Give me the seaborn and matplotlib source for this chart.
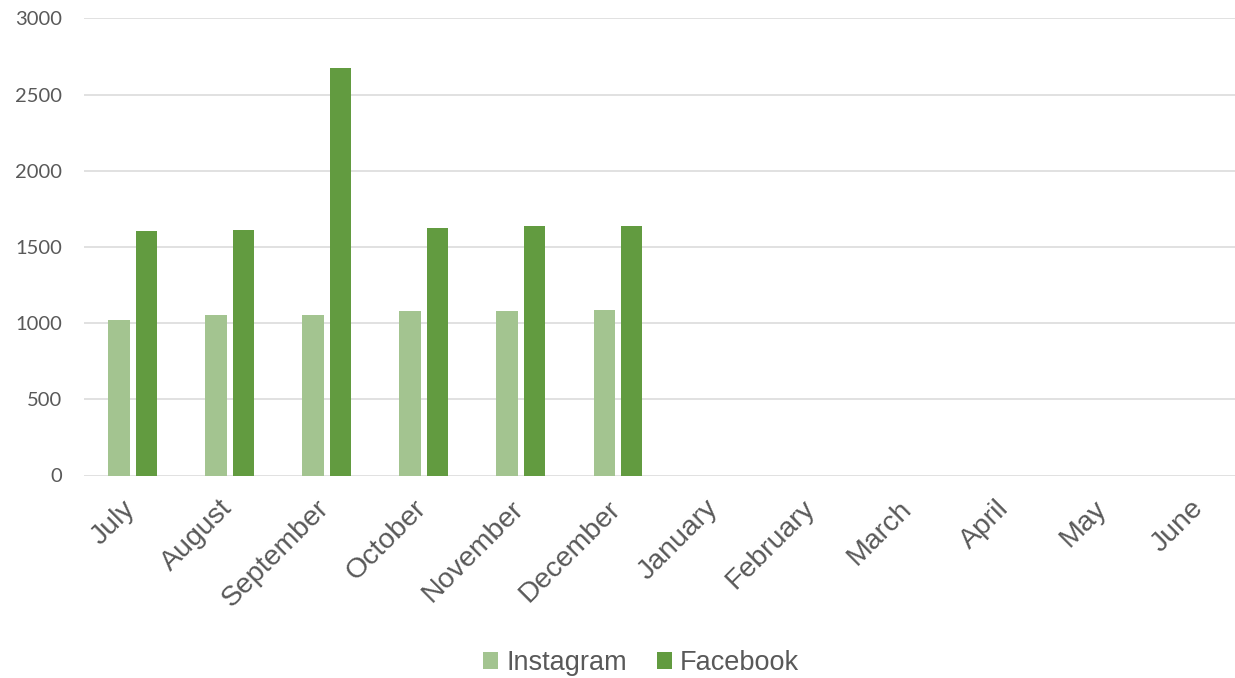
import matplotlib
matplotlib.use("Agg")
import matplotlib.pyplot as plt
import matplotlib.transforms as mtransforms
from matplotlib.patches import Patch
import seaborn as sns
import pandas as pd

months = ["July", "August", "September", "October", "November", "December",
          "January", "February", "March", "April", "May", "June"]
data_months = ["July", "August", "September", "October", "November", "December"]
instagram = [1020, 1051, 1053, 1077, 1081, 1086]
facebook = [1604, 1613, 2672, 1622, 1635, 1639]
series = ["Instagram", "Facebook"]
colors = {"Instagram": "#A3C490", "Facebook": "#629B40"}
yticks = [0, 500, 1000, 1500, 2000, 2500, 3000]

df = pd.DataFrame({
    "month": data_months * 2,
    "value": instagram + facebook,
    "series": ["Instagram"] * len(data_months) + ["Facebook"] * len(data_months),
})

sns.set_theme(style="white")
text_color = "#595959"

fig = plt.figure(figsize=(12.35, 6.78), dpi=100)
ax = fig.add_axes([84 / 1235, 202.5 / 678, 1165 / 1235, 457.2 / 678])

sns.barplot(data=df, x="month", y="value", hue="series", order=months,
            hue_order=series, palette=colors, errorbar=None, width=0.565,
            gap=0.22, legend=False, ax=ax, linewidth=0, saturation=1)

ax.set_xlim(-0.5, len(months) - 0.5)
ax.set_ylim(0, 3000)
ax.set_yticks(yticks)
ax.set_yticklabels([str(v) for v in yticks], fontfamily="Lato", fontsize=14.5,
                   color=text_color)
ax.yaxis.grid(True, color="#D9D9D9", linewidth=1.1)
ax.set_axisbelow(True)
for s in ax.spines.values():
    s.set_visible(False)
ax.tick_params(axis="y", length=0, pad=16)
ax.tick_params(axis="x", length=0, pad=10)
ax.set_xlabel("")
ax.set_ylabel("")
ax.set_xticks(range(len(months)))
ax.set_xticklabels(months, rotation=45, ha="right", fontfamily="Liberation Sans",
                   fontsize=20.5, color=text_color)
offset = mtransforms.ScaledTranslation(8 / 100, -6 / 100, fig.dpi_scale_trans)
for lbl in ax.get_xticklabels():
    lbl.set_transform(lbl.get_transform() + offset)

handles = [Patch(facecolor=colors[s], edgecolor="none", label=s) for s in series]
leg = fig.legend(handles=handles, loc="center", bbox_to_anchor=(641 / 1235, 1 - 663 / 678),
                 ncol=2, frameon=False, handlelength=0.55, handleheight=0.55,
                 handletextpad=0.3, columnspacing=1.1,
                 prop={"family": "Liberation Sans", "size": 19.5})
for t in leg.get_texts():
    t.set_color(text_color)

fig.savefig("out.png", dpi=100)
